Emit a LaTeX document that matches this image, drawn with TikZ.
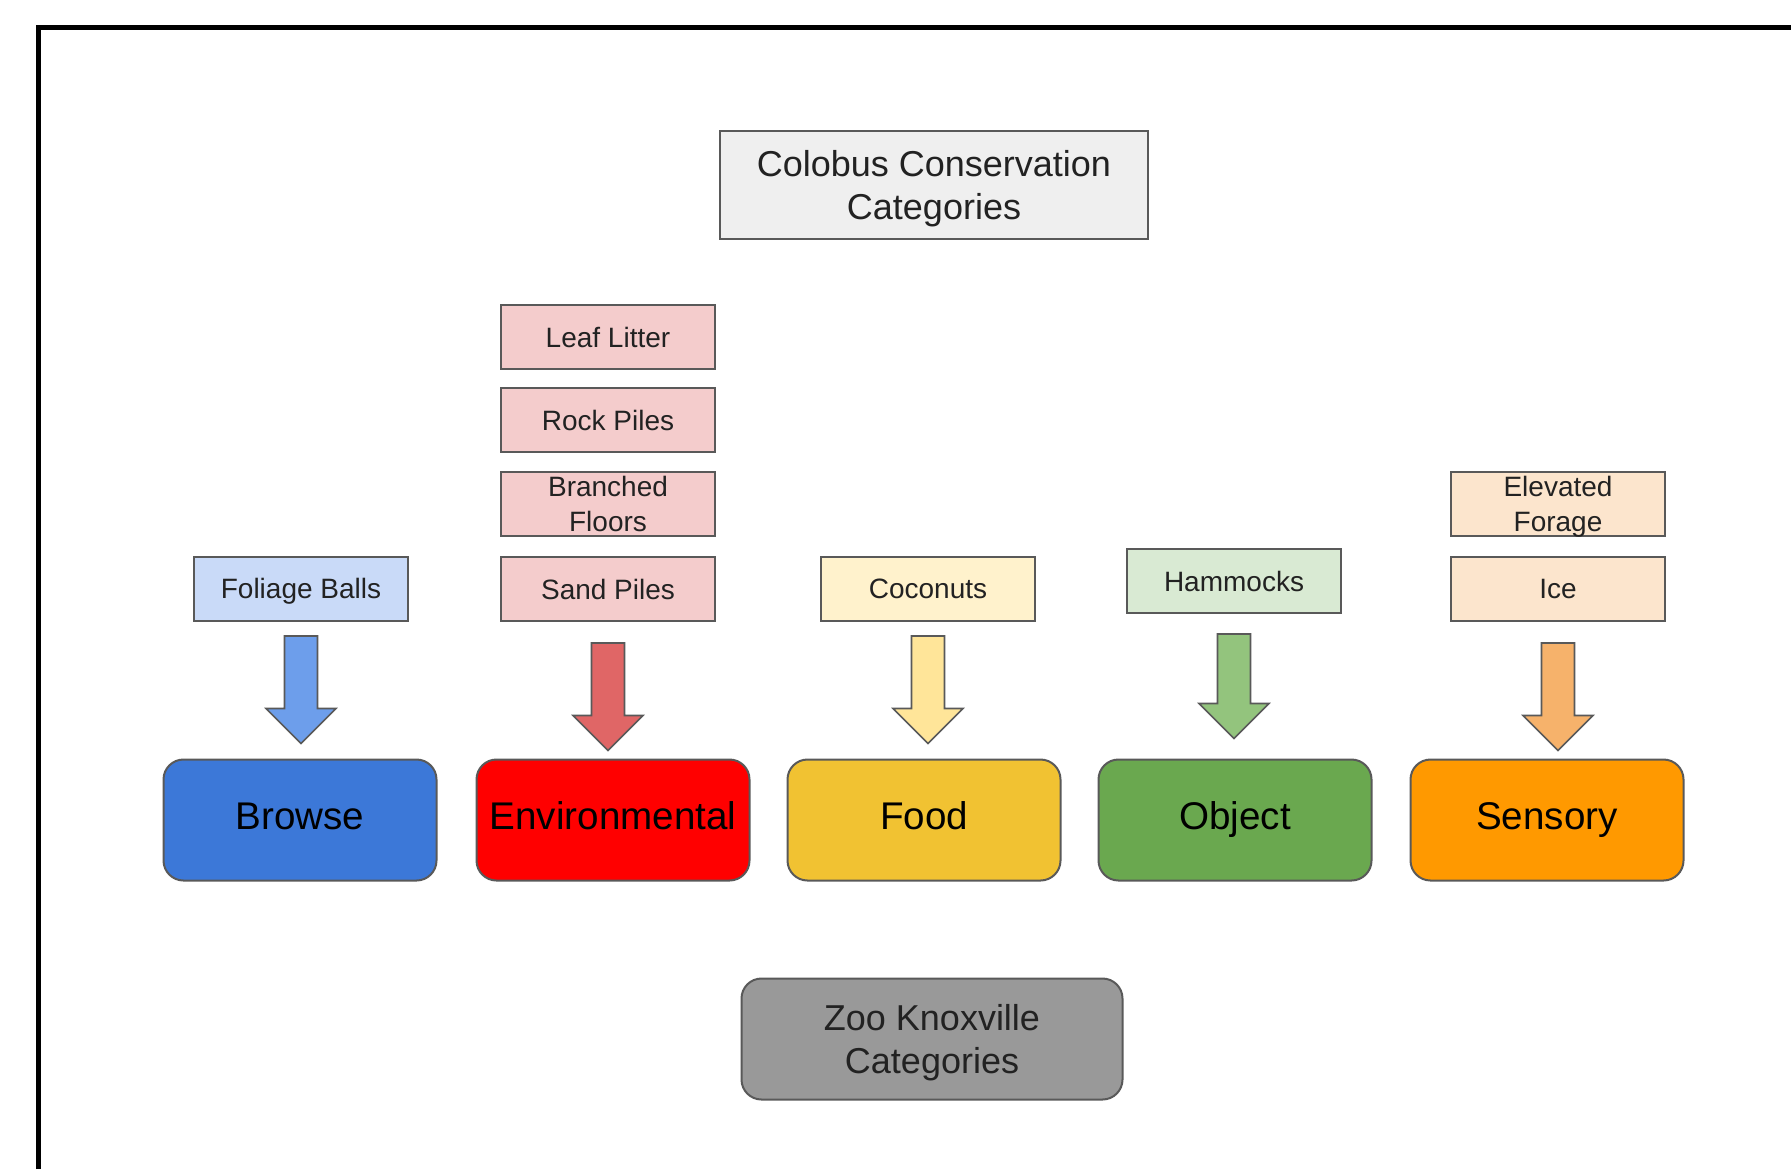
\documentclass[tikz,border=0pt]{standalone}
\usepackage{fontspec}
\setmainfont{Liberation Sans}
\usetikzlibrary{calc}
\definecolor{boxline}{HTML}{595959}
\definecolor{textdark}{HTML}{222222}
\definecolor{titlegray}{HTML}{EFEFEF}
\definecolor{zoogray}{HTML}{999999}
\definecolor{browsefill}{HTML}{3C78D8}
\definecolor{envfill}{HTML}{FF0000}
\definecolor{foodfill}{HTML}{F1C232}
\definecolor{objectfill}{HTML}{6AA84F}
\definecolor{sensoryfill}{HTML}{FF9900}
\definecolor{browselight}{HTML}{C9DAF8}
\definecolor{envlight}{HTML}{F4CCCC}
\definecolor{foodlight}{HTML}{FFF2CC}
\definecolor{objectlight}{HTML}{D9EAD3}
\definecolor{sensorylight}{HTML}{FCE5CD}
\definecolor{browsearrow}{HTML}{6D9EEB}
\definecolor{envarrow}{HTML}{E06666}
\definecolor{foodarrow}{HTML}{FFE599}
\definecolor{objectarrow}{HTML}{93C47D}
\definecolor{sensoryarrow}{HTML}{F6B26B}
\def\blockarrow[#1](#2)(#3)(#4:#5)% Syntax: [draw options] (from node) (to node) (top gap:bottom gap)
    { \path ($(#2.south)+(0,#4)$) coordinate (t) ($(#2.south |- #3.north)+(0,-#5)$) coordinate (b);
      \draw[#1] ($(t)+(-16.5,0)$) -- ($(t)+(16.5,0)$) -- ($(b)+(16.5,-35)$) -- ($(b)+(35,-35)$)
        -- (b) -- ($(b)+(-35,-35)$) -- ($(b)+(-16.5,-35)$) -- cycle; }

\begin{document}
\begin{tikzpicture}[x=0.5pt,y=-0.5pt,
    itembox/.style={draw=boxline, line width=1pt, minimum width=107pt, minimum height=32pt,
      inner sep=0pt, align=center, text=textdark, font=\fontsize{14}{17.5}\selectfont},
    catbox/.style={draw=boxline, line width=1pt, rounded corners=10pt, minimum width=136.5pt,
      minimum height=60.5pt, inner sep=0pt, text=black, font=\fontsize{19.3}{23}\selectfont,
      text height=14pt, text depth=4.6pt},
    bigbox/.style={draw=boxline, line width=1pt, minimum height=54pt, inner sep=0pt,
      align=center, text=textdark, font=\fontsize{18}{21.7}\selectfont}]
   \useasboundingbox (0,0) rectangle (1791,1169);
   \draw[line width=2.5pt] (38.5,1169) -- (38.5,27.5) -- (1791,27.5);

   \node[bigbox, fill=titlegray, minimum width=214pt] (title) at (934,185) {Colobus Conservation\\\smash{Categories}};

   % items
   \node[itembox, fill=browselight] (foliage) at (301,589) {\smash{Foliage Balls}\vphantom{S}};
   \node[itembox, fill=envlight] (leaf) at (608,337) {Leaf Litter};
   \node[itembox, fill=envlight] (rock) at (608,420) {Rock Piles};
   \node[itembox, fill=envlight] (branched) at (608,504) {Branched\\Floors};
   \node[itembox, fill=envlight] (sand) at (608,589) {Sand Piles};
   \node[itembox, fill=foodlight] (coconuts) at (928,589) {Coconuts};
   \node[itembox, fill=objectlight] (hammocks) at (1234,581) {Hammocks};
   \node[itembox, fill=sensorylight] (elevated) at (1558,504) {Elevated\\\smash{Forage}};
   \node[itembox, fill=sensorylight] (ice) at (1558,589) {Ice};

   % categories
   \node[catbox, fill=browsefill] (browse) at (300,820) {Browse};
   \node[catbox, fill=envfill] (env) at (613,820) {Environmental};
   \node[catbox, fill=foodfill] (food) at (924,820) {Food};
   \node[catbox, fill=objectfill] (object) at (1235,820) {Object};
   \node[catbox, fill=sensoryfill] (sensory) at (1547,820) {Sensory};

   \node[bigbox, fill=zoogray, rounded corners=10pt, minimum width=190.5pt, minimum height=60.5pt] (zoo) at (932,1039) {Zoo Knoxville\\\smash{Categories}};

   \blockarrow[draw=boxline, line width=0.8pt, fill=browsearrow](foliage)(browse)(14:15)
   \blockarrow[draw=boxline, line width=0.8pt, fill=envarrow](sand)(env)(21:8)
   \blockarrow[draw=boxline, line width=0.8pt, fill=foodarrow](coconuts)(food)(14:15)
   \blockarrow[draw=boxline, line width=0.8pt, fill=objectarrow](hammocks)(object)(20:20)
   \blockarrow[draw=boxline, line width=0.8pt, fill=sensoryarrow](ice)(sensory)(21:8)
\end{tikzpicture}
\end{document}
